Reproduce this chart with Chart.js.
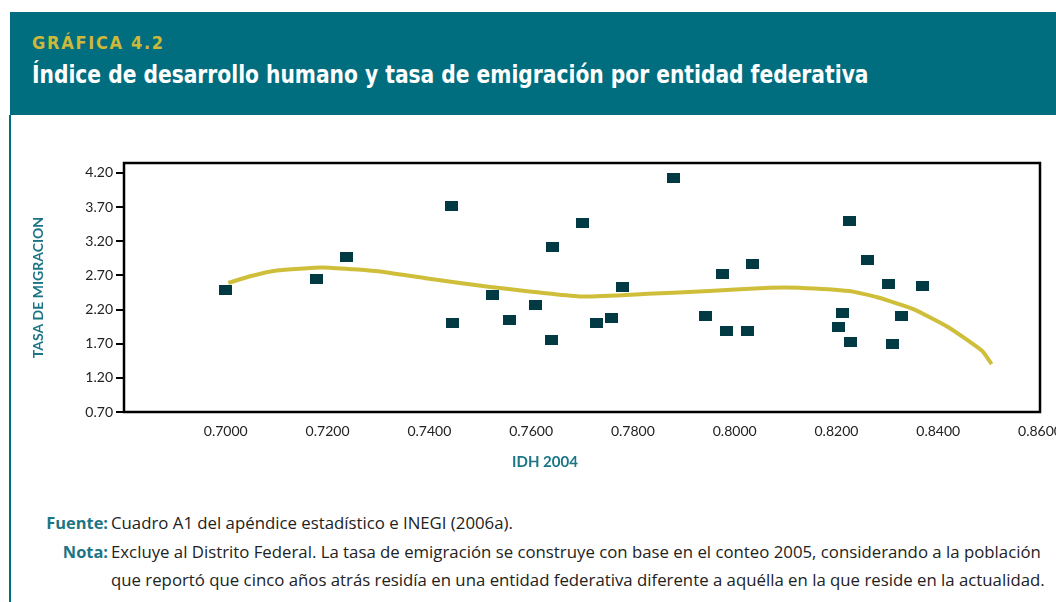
<!DOCTYPE html>
<html lang="es">
<head>
<meta charset="utf-8">
<script src="https://cdn.jsdelivr.net/npm/chart.js@4.4.1/dist/chart.umd.min.js"></script>
<style>
  html, body { margin: 0; padding: 0; background: #fff; width: 1056px; height: 602px; overflow: hidden; }
  #band { position: absolute; left: 10px; top: 12px; width: 1046px; height: 103px; background: #006e7f; }
  #kicker { position: absolute; left: 22px; top: 20px; color: #cdb83a; font: bold 18px "DejaVu Sans Condensed", sans-serif; letter-spacing: 1.7px; }
  #title { position: absolute; left: 22px; top: 48px; color: #fff; font: bold 25px "DejaVu Sans Condensed", sans-serif; white-space: nowrap; transform: scaleX(0.9); transform-origin: 0 0; }
  #rule { position: absolute; left: 9px; top: 115px; width: 2px; height: 487px; background: #006e7f; }
  #wrap { position: absolute; left: 0; top: 120px; width: 1080px; height: 360px; }
  #xtitle { position: absolute; left: 480px; top: 452px; width: 130px; text-align: center; color: #1b7585; font: bold 15px Lato, sans-serif; }
  .note { position: absolute; font: 16.8px "Open Sans", sans-serif; color: #222; white-space: nowrap; transform: scaleX(1.0); transform-origin: 0 0; }
  .lab { position: absolute; width: 100px; text-align: right; color: #1b7585; font: bold 16.4px "Open Sans", sans-serif; }
</style>
</head>
<body>
<div id="band">
  <div id="kicker">GRÁFICA 4.2</div>
  <div id="title">Índice de desarrollo humano y tasa de emigración por entidad federativa</div>
</div>
<div id="rule"></div>
<div id="wrap"><canvas id="out"></canvas></div>
<div id="xtitle">IDH 2004</div>

<div class="lab" style="left:8px;top:511px">Fuente:</div>
<div class="note" style="left:111px;top:511px">Cuadro A1 del apéndice estadístico e INEGI (2006a).</div>
<div class="lab" style="left:8px;top:540px">Nota:</div>
<div class="note" style="left:111px;top:540px">Excluye al Distrito Federal. La tasa de emigración se construye con base en el conteo 2005, considerando a la población</div>
<div class="note" style="left:111px;top:568px">que reportó que cinco años atrás residía en una entidad federativa diferente a aquélla en la que reside en la actualidad.</div>

<script>
// IDH 2004 por entidad y tasa de migracion
const idh = [0.7000, 0.7178, 0.7237, 0.7443, 0.7445, 0.7524, 0.7557, 0.7608, 0.7642, 0.7640,
  0.7700, 0.7728, 0.7758, 0.7779, 0.7879, 0.7942, 0.7976, 0.7984, 0.8025, 0.8035,
  0.8204, 0.8212, 0.8225, 0.8227, 0.8261, 0.8302, 0.8310, 0.8327, 0.8369];
const tasa = [2.49, 2.65, 2.97, 3.71, 2.01, 2.41, 2.04, 2.26, 3.12, 1.75,
  3.47, 2.01, 2.08, 2.53, 4.12, 2.10, 2.72, 1.88, 1.89, 2.87,
  1.95, 2.15, 3.50, 1.72, 2.93, 2.58, 1.69, 2.10, 2.54];

// linea de tendencia
const trendIdh = [0.7005, 0.7050, 0.7100, 0.7190, 0.7250, 0.7300, 0.7400, 0.7520, 0.7700, 0.7830,
  0.7950, 0.8070, 0.8125, 0.8225, 0.8280, 0.8350, 0.8420, 0.8487, 0.8505];
const trendTasa = [2.59, 2.69, 2.77, 2.815, 2.79, 2.76, 2.65, 2.53, 2.39, 2.43,
  2.47, 2.52, 2.52, 2.47, 2.38, 2.21, 1.94, 1.59, 1.40];

const yTicks = [0.70, 1.20, 1.70, 2.20, 2.70, 3.20, 3.70, 4.20];
const xTicks = [0.70, 0.72, 0.74, 0.76, 0.78, 0.80, 0.82, 0.84, 0.86];

const teal = "#1b7585";

// marcador rectangular
const marker = document.createElement("canvas");
marker.width = 13;
marker.height = 10;
const mctx = marker.getContext("2d");
mctx.fillStyle = "#023a44";
mctx.fillRect(0, 0, 13, 10);

const frame = {
  id: "frame",
  afterDatasetsDraw(chart) {
    const a = chart.chartArea;
    const ctx = chart.ctx;
    ctx.save();
    ctx.strokeStyle = "#000";
    ctx.lineWidth = 2.5;
    ctx.strokeRect(a.left, a.top, a.right - a.left, a.bottom - a.top);
    ctx.restore();
  }
};

const scatterData = idh.map((v, i) => ({ x: v, y: tasa[i] }));
const trendData = trendIdh.map((v, i) => ({ x: v, y: trendTasa[i] }));

new Chart(document.getElementById("out"), {
  type: "scatter",
  data: {
    datasets: [
      {
        label: "Entidades",
        data: scatterData,
        pointStyle: marker,
        order: 1
      },
      {
        label: "Tendencia",
        data: trendData,
        showLine: true,
        borderColor: "#cfbe3a",
        borderWidth: 4,
        pointRadius: 0,
        tension: 0.15,
        order: 2
      }
    ]
  },
  options: {
    responsive: true,
    maintainAspectRatio: false,
    animation: false,
    layout: { padding: { left: 0, top: 43, right: 40, bottom: 0 } },
    plugins: { legend: { display: false }, tooltip: { enabled: false } },
    scales: {
      x: {
        type: "linear",
        min: 0.68,
        max: 0.86,
        border: { display: false },
        grid: { display: false, drawTicks: false },
        afterBuildTicks: s => { s.ticks = xTicks.map(v => ({ value: v })); },
        afterFit: s => { s.height = 68; },
        ticks: {
          padding: 11,
          color: "#222",
          font: { family: "Lato", size: 14 },
          maxRotation: 0,
          autoSkip: false,
          callback: v => v.toFixed(4)
        }
      },
      y: {
        min: 0.70,
        max: 4.345,
        border: { display: false },
        grid: { drawOnChartArea: false, drawTicks: true, tickLength: 8, color: "#000", lineWidth: 2 },
        afterBuildTicks: s => { s.ticks = yTicks.map(v => ({ value: v })); },
        afterFit: s => { s.width = 124; },
        ticks: {
          padding: 3,
          color: "#222",
          font: { family: "Lato", size: 14 },
          autoSkip: false,
          callback: v => v.toFixed(2)
        },
        title: {
          display: true,
          text: "TASA DE MIGRACION",
          color: teal,
          font: { family: "Lato", size: 14, weight: "bold" },
          padding: { top: 30, bottom: 0 }
        }
      }
    }
  },
  plugins: [frame]
});
</script>
</body>
</html>
